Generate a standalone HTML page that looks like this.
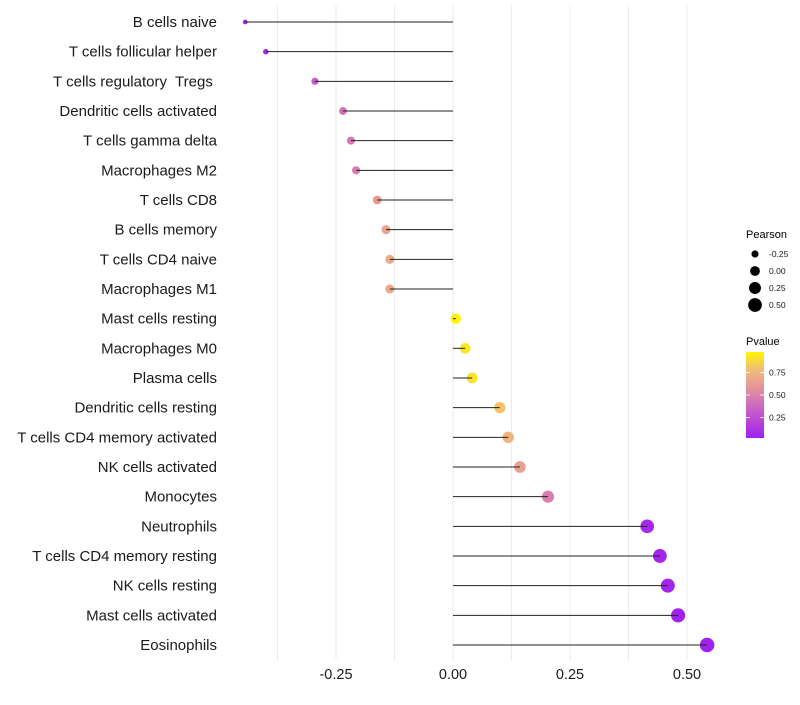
<!DOCTYPE html>
<html><head><meta charset="utf-8"><style>
body{margin:0;background:#fff;font-family:"Liberation Sans",sans-serif}
text{white-space:pre}
</style></head><body>
<svg id="chart" width="800" height="700" xmlns="http://www.w3.org/2000/svg"></svg>
<script>
const categories=["B cells naive","T cells follicular helper","T cells regulatory  Tregs ","Dendritic cells activated","T cells gamma delta","Macrophages M2","T cells CD8","B cells memory","T cells CD4 naive","Macrophages M1","Mast cells resting","Macrophages M0","Plasma cells","Dendritic cells resting","T cells CD4 memory activated","NK cells activated","Monocytes","Neutrophils","T cells CD4 memory resting","NK cells resting","Mast cells activated","Eosinophils"];
const pearson=[-0.444,-0.400,-0.295,-0.235,-0.218,-0.207,-0.162,-0.143,-0.135,-0.135,0.006,0.026,0.041,0.100,0.118,0.143,0.203,0.415,0.442,0.459,0.481,0.543];
const pvalue=[0.02,0.05,0.30,0.42,0.45,0.47,0.62,0.66,0.70,0.70,0.99,0.95,0.93,0.82,0.76,0.65,0.48,0.04,0.03,0.02,0.01,0.005];
const xTicks=[-0.25,0,0.25,0.5];
const xTickLabels=["-0.25","0.00","0.25","0.50"];
const sizeTicks=[-0.25,0,0.25,0.5];
const pTicks=[0.25,0.5,0.75];

const svg=document.getElementById('chart');
const NS="http://www.w3.org/2000/svg";
function mk(t,a,p){const e=document.createElementNS(NS,t);for(const k in a)e.setAttribute(k,a[k]);(p||svg).appendChild(e);return e;}
const x=v=>453+v*468;
const y=i=>22+i*(623/21);
const r=v=>Math.sqrt(Math.max(2,27+48*v));
function lerp(a,b,t){return a.map((c,i)=>Math.round(c+(b[i]-c)*t));}
const stops=[[0,[160,32,240]],[0.45,[215,120,180]],[0.65,[232,160,144]],[0.8,[240,190,120]],[1,[255,245,0]]];
function col(p){for(let i=1;i<stops.length;i++){if(p<=stops[i][0]){const t=(p-stops[i-1][0])/(stops[i][0]-stops[i-1][0]);const c=lerp(stops[i-1][1],stops[i][1],t);return `rgb(${c})`;}}return 'rgb(255,245,0)';}

// grid
[-0.375,-0.25,-0.125,0,0.125,0.25,0.375,0.5].forEach(v=>{
 const g=mk('line',{x1:x(v),x2:x(v),y1:5,y2:660,stroke:'#ebebeb','stroke-width':1});
 
 
});
categories.forEach((c,i)=>{
 const d=mk('circle',{cx:x(pearson[i]),cy:y(i),r:r(pearson[i]),fill:col(pvalue[i])});
 
 
 const s=mk('line',{x1:x(0),x2:x(pearson[i]),y1:y(i),y2:y(i),stroke:'#222','stroke-width':1});
 
 
 const t=mk('text',{x:217,y:y(i)+5,'text-anchor':'end','font-size':15,fill:'#1a1a1a'});
 t.textContent=c;
 
 
});
xTicks.forEach((v,i)=>{
 const t=mk('text',{x:x(v),y:679,'text-anchor':'middle','font-size':14.5,fill:'#1a1a1a'});
 t.textContent=xTickLabels[i];
 
 
});
// size legend
const lt=mk('text',{x:746,y:238,'font-size':11,fill:'#000'});lt.textContent='Pearson';


sizeTicks.forEach((v,i)=>{
 const cy=254+i*17;
 const c=mk('circle',{cx:755,cy:cy,r:r(v)-0.3,fill:'#000'});
 
 
 const t=mk('text',{x:769,y:cy+3,'font-size':8.5,fill:'#1a1a1a'});t.textContent=v.toFixed(2);
 
 
});
// color legend
const pt=mk('text',{x:746,y:345,'font-size':11,fill:'#000'});pt.textContent='Pvalue';


const defs=mk('defs',{});const lg=mk('linearGradient',{id:'pg',x1:0,y1:1,x2:0,y2:0},defs);
stops.forEach(s=>mk('stop',{offset:s[0],'stop-color':`rgb(${s[1]})`},lg));
const bar=mk('rect',{x:746,y:352,width:18,height:86,fill:'url(#pg)'});


const py=p=>438-(p-0.02)/(0.98-0.02)*86;
pTicks.forEach(p=>{
 mk('line',{x1:746,x2:750,y1:py(p),y2:py(p),stroke:'#fff','stroke-width':0.8});
 mk('line',{x1:760,x2:764,y1:py(p),y2:py(p),stroke:'#fff','stroke-width':0.8});
 const t=mk('text',{x:769,y:py(p)+3,'font-size':8.5,fill:'#1a1a1a'});t.textContent=p.toFixed(2);
 
 
});
</script>
</body></html>
